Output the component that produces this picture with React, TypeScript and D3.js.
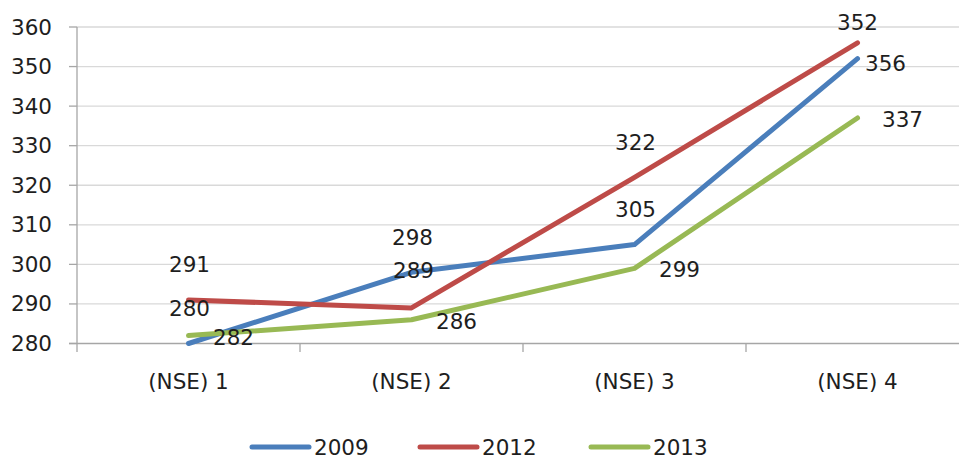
import * as d3 from 'd3'
import React from 'react'

// chart data
const categories = ['(NSE) 1', '(NSE) 2', '(NSE) 3', '(NSE) 4']
const seriesNames = ['2009', '2012', '2013']
const values2009 = [280, 298, 305, 352]
const values2012 = [291, 289, 322, 356]
const values2013 = [282, 286, 299, 337]
// data labels as printed on the chart
const labels2009 = ['280', '298', '305', '356']
const labels2012 = ['291', '289', '322', '352']
const labels2013 = ['282', '286', '299', '337']
const yTicks = [280, 290, 300, 310, 320, 330, 340, 350, 360]

const width = 959
const height = 458
const colors = ['#4a7ebb', '#be4b48', '#98b954']
const font = 'DejaVu Sans, sans-serif'
const fs = 21.5
const ink = '#1e1e1e'

export default function App() {
  const x = d3.scaleBand().domain(categories).range([77, 969]).padding(0)
  const y = d3.scaleLinear().domain([280, 360]).range([343.5, 27])
  const cx = (c: string) => (x(c) as number) + x.bandwidth() / 2

  const series = [
    { name: seriesNames[0], values: values2009, labels: labels2009, color: colors[0] },
    { name: seriesNames[1], values: values2012, labels: labels2012, color: colors[1] },
    { name: seriesNames[2], values: values2013, labels: labels2013, color: colors[2] },
  ]

  // label placement (dx, dy) relative to each point
  const labelOffset = (si: number, i: number): [number, number] => {
    if (si === 2) return [45, 1.5]
    if (si === 0 && i === 3) return [28, 5]
    if (si === 1 && i === 3) return [0, -20]
    if (si === 1 && i === 1) return [2, -37]
    return [1, -35]
  }

  const line = d3.line<number>()
    .x((d, i) => cx(categories[i]))
    .y(d => y(d))

  const legendX = [252, 420, 591]

  return (
    <svg width={width} height={height} style={{ display: 'block', fontFamily: font }}>
      <style>{'body{margin:0}'}</style>
      <rect width={width} height={height} fill="#fff" />
      {yTicks.map(t => (
        <g key={t}>
          {t !== 280 && <line x1={77} x2={969} y1={y(t)} y2={y(t)} stroke="#d9d9d9" strokeWidth={1.3} />}
          <line x1={69} x2={77} y1={y(t)} y2={y(t)} stroke="#a6a6a6" strokeWidth={1.3} />
          <text x={52} y={y(t)} textAnchor="end" dominantBaseline="central" fontSize={fs} fill={ink}>{t}</text>
        </g>
      ))}
      <line x1={77} x2={77} y1={27} y2={352} stroke="#a6a6a6" strokeWidth={1.3} />
      <line x1={69} x2={969} y1={y(280)} y2={y(280)} stroke="#a6a6a6" strokeWidth={1.3} />
      {categories.map(c => (
        <g key={c}>
          <line x1={x(c)! + x.bandwidth()} x2={x(c)! + x.bandwidth()} y1={y(280)} y2={352} stroke="#a6a6a6" strokeWidth={1.3} />
          <text x={cx(c)} y={381} textAnchor="middle" dominantBaseline="central" fontSize={fs} fill={ink}>{c}</text>
        </g>
      ))}
      {series.map(s => (
        <path key={s.name} d={line(s.values) || ''} fill="none" stroke={s.color} strokeWidth={5} strokeLinecap="round" strokeLinejoin="round" />
      ))}
      {series.map((s, si) => s.values.map((v, i) => {
        const [dx, dy] = labelOffset(si, i)
        return (
          <text key={s.name + i} x={cx(categories[i]) + dx} y={y(v) + dy} textAnchor="middle" dominantBaseline="central" fontSize={fs} fill={ink}>{s.labels[i]}</text>
        )
      }))}
      {series.map((s, si) => (
        <g key={'lg' + s.name}>
          <line x1={legendX[si]} x2={legendX[si] + 57} y1={447} y2={447} stroke={s.color} strokeWidth={5} strokeLinecap="round" />
          <text x={legendX[si] + 62} y={447} dominantBaseline="central" fontSize={fs} fill={ink}>{s.name}</text>
        </g>
      ))}
    </svg>
  )
}
